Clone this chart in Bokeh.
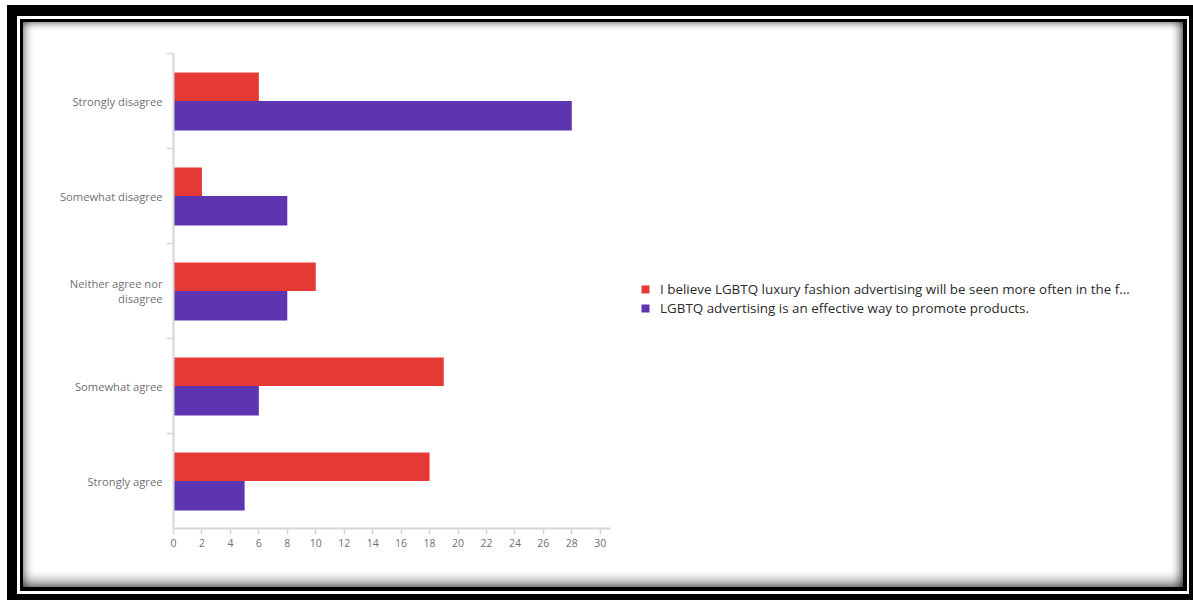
from bokeh.plotting import figure
from bokeh.models import Range1d, FixedTicker, Legend, LegendItem, ColumnDataSource
from bokeh.embed import file_html
from bokeh.resources import INLINE

# ---- data (top to bottom) ----
categories = ["Strongly disagree", "Somewhat disagree", "Neither agree nor disagree",
              "Somewhat agree", "Strongly agree"]
category_labels = ["Strongly disagree", "Somewhat disagree", "Neither agree nor\ndisagree",
                   "Somewhat agree", "Strongly agree"]
seen_more_often = [6, 2, 10, 19, 18]
effective_way = [28, 8, 8, 6, 5]
series_names = ["I believe LGBTQ luxury fashion advertising will be seen more often in the f...",
                "LGBTQ advertising is an effective way to promote products."]
x_ticks = list(range(0, 31, 2))
x_axis_max = 30.7

RED = "#E53935"
PURPLE = "#5E35B1"
FONT = "Open Sans"
TICK_COLOR = "#6f7077"
AXIS_COLOR = "#d6d6d6"

W, H = 1193, 600
n = len(categories)
centers = [n - i - 0.5 for i in range(n)]

src = ColumnDataSource(dict(
    cat=categories,
    center=centers,
    red_y=[c + 0.15 for c in centers],
    purple_y=[c - 0.155 for c in centers],
    red=seen_more_often,
    purple=effective_way,
))

# decorative picture frame painted as the page background behind a transparent canvas
def layer(color, x, y, w, h):
    return f"linear-gradient({color}, {color}) {x}px {y}px / {w}px {h}px no-repeat"

IX, IY, IW, IH = 23, 22, 1160, 565
def shade(direction, a, size):
    return (f"linear-gradient({direction}, rgba(0,0,0,{a}) 0px, rgba(0,0,0,{a*0.45}) {size*0.35:.1f}px, "
            f"rgba(0,0,0,{a*0.12}) {size*0.7:.1f}px, rgba(0,0,0,0) {size}px) "
            f"{IX}px {IY}px / {IW}px {IH}px no-repeat")

frame_bg = ", ".join([
    shade("to bottom", 0.38, 9),
    shade("to right", 0.38, 11),
    shade("to left", 0.55, 12),
    shade("to top", 0.5, 17),
    layer("#ffffff", IX, IY, IW, IH),
    layer("#000000", 20, 19, 1167, 572),
    layer("#ffffff", 17, 16, 1172, 578),
    layer("#000000", 7, 5, 1186, 595) + " #ffffff",
])

# plot frame spans to the right so the legend sits inside it; the x axis line stops at 30.7
p = figure(width=W, height=H, output_backend="svg", toolbar_location=None,
           x_range=Range1d(0, 71.0), y_range=Range1d(0, n),
           min_border_left=173, min_border_right=10, min_border_top=53, min_border_bottom=72,
           styles={"background": frame_bg})
p.background_fill_alpha = 0
p.border_fill_alpha = 0
p.outline_line_color = None
p.grid.visible = False

# ---- bars ----
r1 = p.hbar(y="red_y", left=0, right="red", height=0.3, source=src,
            fill_color=RED, line_color=None)
r2 = p.hbar(y="purple_y", left=0, right="purple", height=0.31, source=src,
            fill_color=PURPLE, line_color=None)

# ---- axes ----
ya = p.yaxis[0]
ya.ticker = FixedTicker(ticks=centers, minor_ticks=[1, 2, 3, 4, 5])
ya.major_label_overrides = {c: lab for c, lab in zip(centers, category_labels)}
ya.major_tick_out = 0
ya.major_tick_in = 0
ya.minor_tick_out = 7
ya.minor_tick_in = 0
ya.minor_tick_line_color = AXIS_COLOR
ya.minor_tick_line_width = 1.5
ya.axis_line_color = AXIS_COLOR
ya.axis_line_width = 2
ya.major_label_text_font = FONT
ya.major_label_text_font_size = "11.2px"
ya.major_label_text_line_height = 0.95
ya.major_label_text_color = TICK_COLOR
ya.major_label_standoff = 4

xa = p.xaxis[0]
xa.ticker = FixedTicker(ticks=x_ticks)
xa.bounds = (0, x_axis_max)
xa.major_tick_out = 6
xa.major_tick_in = 0
xa.minor_tick_out = 0
xa.minor_tick_in = 0
xa.major_tick_line_color = AXIS_COLOR
xa.major_tick_line_width = 1.5
xa.axis_line_color = AXIS_COLOR
xa.axis_line_width = 2
xa.major_label_text_font = FONT
xa.major_label_text_font_size = "10.5px"
xa.major_label_text_color = TICK_COLOR
xa.major_label_standoff = 4

# ---- legend ----
legend = Legend(items=[LegendItem(label=series_names[0], renderers=[r1]),
                       LegendItem(label=series_names[1], renderers=[r2])],
                location=(467, 211), orientation="vertical",
                glyph_width=10, glyph_height=10, label_height=15, spacing=1,
                label_standoff=10, padding=0, margin=0,
                border_line_color=None, background_fill_alpha=0,
                label_text_font=FONT, label_text_font_size="13.4px",
                label_text_color="#2b2b2b")
p.add_layout(legend, "center")

open("out.html", "w").write(file_html(p, INLINE))
